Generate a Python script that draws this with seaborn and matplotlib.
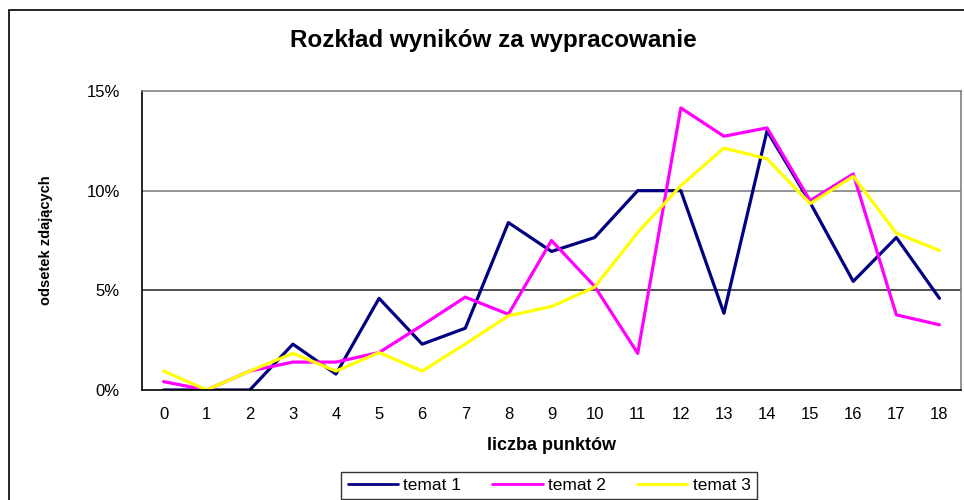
import pandas as pd
import numpy as np
import matplotlib
matplotlib.use("Agg")
import matplotlib.pyplot as plt
import seaborn as sns
from matplotlib.patches import Rectangle
from matplotlib.lines import Line2D

punkty = list(range(19))
temat_1 = [0.0, 0.0, 0.0, 2.3, 0.8, 4.6, 2.3, 3.1, 8.4, 6.95, 7.65, 10.0, 10.0, 3.85, 13.0, 9.4, 5.45, 7.65, 4.6]
temat_2 = [0.42, 0.0, 0.95, 1.4, 1.4, 1.88, 3.25, 4.66, 3.8, 7.5, 5.2, 1.84, 14.15, 12.73, 13.15, 9.5, 10.84, 3.77, 3.27]
temat_3 = [0.95, 0.0, 0.95, 1.84, 0.95, 1.88, 0.95, 2.31, 3.72, 4.19, 5.16, 7.9, 10.25, 12.14, 11.6, 9.35, 10.72, 7.87, 7.0]
serie = ["temat 1", "temat 2", "temat 3"]
kolory = ["#000080", "#FF00FF", "#FFFF00"]

df = pd.DataFrame({"punkty": punkty * 3,
                   "odsetek": temat_1 + temat_2 + temat_3,
                   "temat": [s for s in serie for _ in punkty]})

sns.set_style("white")
plt.rcParams['font.family'] = ['Liberation Sans', 'DejaVu Sans']
plt.rcParams['text.color'] = 'black'
plt.rcParams['axes.labelcolor'] = 'black'
plt.rcParams['xtick.color'] = 'black'
plt.rcParams['ytick.color'] = 'black'

fig = plt.figure(figsize=(9.64, 5.0), dpi=100)
# outer chart frame (runs off the right and bottom edge)
fig.patches.append(Rectangle((9 / 964, -0.1), 1.2, 1.1 - 10 / 500, transform=fig.transFigure,
                             fill=False, edgecolor="black", linewidth=1.2, zorder=0))
ax = fig.add_axes([142 / 964, 110 / 500, 819 / 964, 299 / 500])

sns.lineplot(data=df, x="punkty", y="odsetek", hue="temat", palette=kolory,
             linewidth=2.3, ax=ax, legend=False)

ax.set_xlim(-0.5, 18.5)
ax.set_ylim(0, 15)
ax.set_yticks([0, 5, 10, 15])
ax.set_yticklabels(["0%", "5%", "10%", "15%"], fontsize=12)
ax.set_xticks(punkty)
ax.set_xticklabels([str(p) for p in punkty], fontsize=12)
ax.set_xticks(np.arange(-0.5, 19, 1), minor=True)
ax.tick_params(axis="x", which="major", length=0, pad=12)
ax.tick_params(axis="x", which="minor", length=6, width=1, color="black", direction="out")
ax.tick_params(axis="y", length=6, width=1, color="black", direction="out", pad=10)
ax.grid(False)
for y, c in [(5, "#333333"), (10, "#808080")]:
    ax.axhline(y, color=c, linewidth=1.2, zorder=0)

ax.spines["left"].set_color("black")
ax.spines["bottom"].set_color("black")
ax.spines["top"].set_color("#808080")
ax.spines["right"].set_color("#808080")
for s in ax.spines.values():
    s.set_linewidth(1.2)

ax.set_xlabel("liczba punktów", fontsize=13, fontweight="bold", labelpad=11)
ax.set_ylabel("odsetek zdających", fontsize=10.5, fontweight="bold", labelpad=24)
fig.text(493 / 964, 1 - 41 / 500, "Rozkład wyników za wypracowanie",
         ha="center", va="center", fontsize=17.5, fontweight="bold")

uchwyty = [Line2D([], [], color=c, linewidth=2) for c in kolory]
leg = fig.legend(uchwyty, serie, loc="upper center", bbox_to_anchor=(549 / 964, 1 - 472 / 500),
                 ncol=3, fontsize=12.5, frameon=True, fancybox=False, handlelength=2.9,
                 handletextpad=0.3, columnspacing=1.8, borderpad=0.35, borderaxespad=0)
leg.get_frame().set_edgecolor("black")
leg.get_frame().set_linewidth(1.0)

fig.savefig("out.png", dpi=100)
